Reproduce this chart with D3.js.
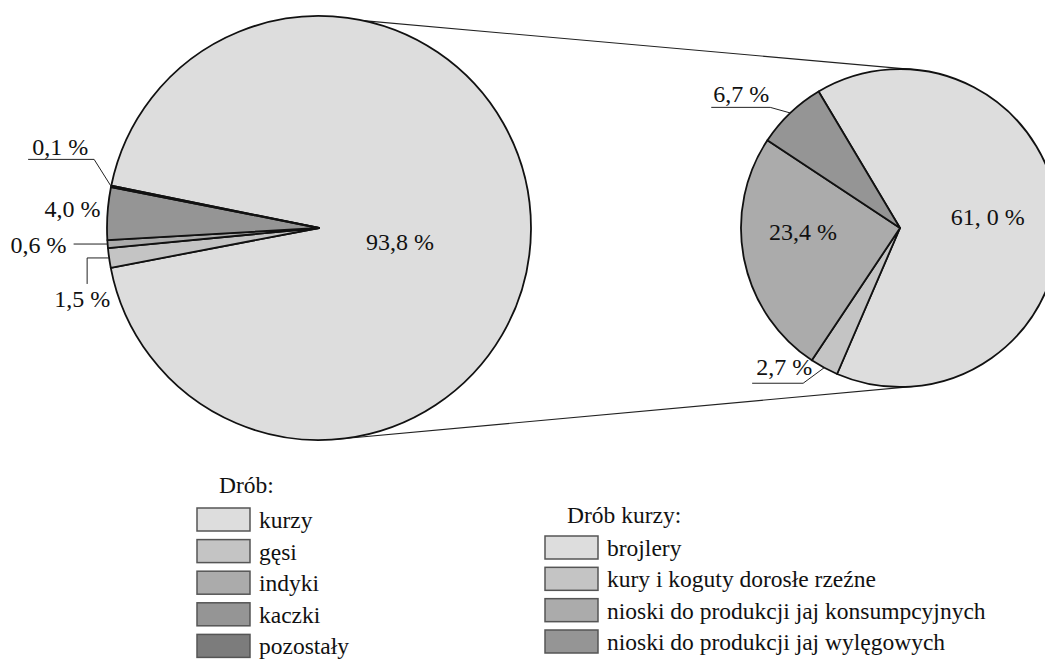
<!DOCTYPE html>
<html>
<head>
<meta charset="utf-8">
<script src="https://cdn.jsdelivr.net/npm/d3@7"></script>
<style>
  html, body { margin: 0; padding: 0; background: #fff; }
  svg { display: block; }
  svg text { font-family: "Liberation Serif", "Times New Roman", serif; }
</style>
</head>
<body>
<svg width="1045" height="661"></svg>
<script>
// Drób - udział gatunków (%)
const poultry = ["kurzy", "gęsi", "indyki", "kaczki", "pozostały"];
const poultryShare = [93.8, 1.5, 0.6, 4.0, 0.1];
const poultryLabels = ["93,8 %", "1,5 %", "0,6 %", "4,0 %", "0,1 %"];

// Drób kurzy - struktura (%)
const chicken = [
  "brojlery",
  "kury i koguty dorosłe rzeźne",
  "nioski do produkcji jaj konsumpcyjnych",
  "nioski do produkcji jaj wylęgowych",
];
const chickenShare = [61.0, 2.7, 23.4, 6.7];
const chickenLabels = ["61, 0 %", "2,7 %", "23,4 %", "6,7 %"];

const greys = ["#dddddd", "#c4c4c4", "#ababab", "#959595", "#7c7c7c"];
const deg = Math.PI / 180;

const svg = d3.select("svg");

// label placement: "r" = polar spot, otherwise a leader from the rim
const mainPlace = {
  "kurzy": { r: 81, anchor: "middle", dx: 0, dy: 22 },
  "gęsi": { leader: [[0, 0], [-22, 0], [-22, 26]], anchor: "middle", dx: -27, dy: 49 },
  "indyki": { leader: [[0, 0], [-34, 0]], anchor: "end", dx: -41, dy: 9 },
  "kaczki": { r: 212, anchor: "end", dx: -7, dy: 4 },
  "pozostały": { leader: [[0, 0], [-17, -27], [-83, -27]], anchor: "start", dx: -79, dy: -31 },
};
const subPlace = {
  "brojlery": { r: 100, anchor: "middle", dx: -12, dy: 4 },
  "kury i koguty dorosłe rzeźne": { leader: [[0, 0], [-21, 15.5], [-72, 15.5]], anchor: "end", dx: -12, dy: 7 },
  "nioski do produkcji jaj konsumpcyjnych": { r: 98, anchor: "middle", dx: -1, dy: -7 },
  "nioski do produkcji jaj wylęgowych": { leader: [[0, 0], [-20, -5.6], [-79, -5.6]], anchor: "start", dx: -77, dy: -11 },
};

const drawPie = ({ names, values, labels, cx, cy, radius, start, place }) => {
  const color = d3.scaleOrdinal(names, greys);
  const pie = d3
    .pie()
    .sort(null)
    .value((d, i) => values[i])
    .startAngle(start * deg)
    .endAngle(start * deg + 2 * Math.PI);
  const arc = d3.arc().innerRadius(0).outerRadius(radius);
  const arcs = pie(names);

  const g = svg.append("g").attr("transform", `translate(${cx},${cy})`);

  g.selectAll("path")
    .data(arcs)
    .join("path")
    .attr("d", arc)
    .attr("fill", (d) => color(d.data))
    .attr("stroke", "#111")
    .attr("stroke-width", 1.8)
    .attr("stroke-linejoin", "round");

  arcs.forEach((d, i) => {
    const p = place[d.data];
    const mid = (d.startAngle + d.endAngle) / 2;
    const [x, y] = d3.pointRadial(mid, p.leader ? radius : p.r);
    if (p.leader) {
      g.append("path")
        .attr("d", d3.line()(p.leader.map(([a, b]) => [x + a, y + b])))
        .attr("fill", "none")
        .attr("stroke", "#222")
        .attr("stroke-width", 1);
    }
    g.append("text")
      .attr("x", x + p.dx)
      .attr("y", y + p.dy)
      .attr("text-anchor", p.anchor)
      .attr("font-size", 24)
      .attr("fill", "#111")
      .text(labels[i]);
  });
};

const main = { cx: 319, cy: 228, r: 212 };
const sub = { cx: 900, cy: 228, r: 159 };

// connecting lines between the two pies
[[12, 5], [176, 175]].forEach(([a, b]) => {
  const [x1, y1] = d3.pointRadial(a * deg, main.r);
  const [x2, y2] = d3.pointRadial(b * deg, sub.r);
  svg.append("line")
    .attr("x1", main.cx + x1).attr("y1", main.cy + y1)
    .attr("x2", sub.cx + x2).attr("y2", sub.cy + y2)
    .attr("stroke", "#222")
    .attr("stroke-width", 1.1);
});

drawPie({ names: poultry, values: poultryShare, labels: poultryLabels,
  cx: main.cx, cy: main.cy, radius: main.r, start: -78.5, place: mainPlace });
drawPie({ names: chicken, values: chickenShare, labels: chickenLabels,
  cx: sub.cx, cy: sub.cy, radius: sub.r, start: -30.8, place: subPlace });

// legends
const legend = (names, title, x, titleY, top, bottom) => {
  const y = d3.scalePoint().domain(names).range([top, bottom]);
  const g = svg.append("g").attr("font-size", 23.5).attr("fill", "#111");
  g.append("text").attr("x", x + 22).attr("y", titleY).text(title);
  const row = g.selectAll("g.row").data(names).join("g").attr("class", "row");
  row.append("rect")
    .attr("x", x)
    .attr("y", (d) => y(d))
    .attr("width", 53)
    .attr("height", 23)
    .attr("fill", (d, i) => greys[i])
    .attr("stroke", "#555")
    .attr("stroke-width", 1.5);
  row.append("text")
    .attr("x", x + 62)
    .attr("y", (d) => y(d) + 20)
    .text((d) => d);
};

legend(poultry, "Drób:", 197, 493, 508, 634.4);
legend(chicken, "Drób kurzy:", 545, 523, 536, 630);
</script>
</body>
</html>
